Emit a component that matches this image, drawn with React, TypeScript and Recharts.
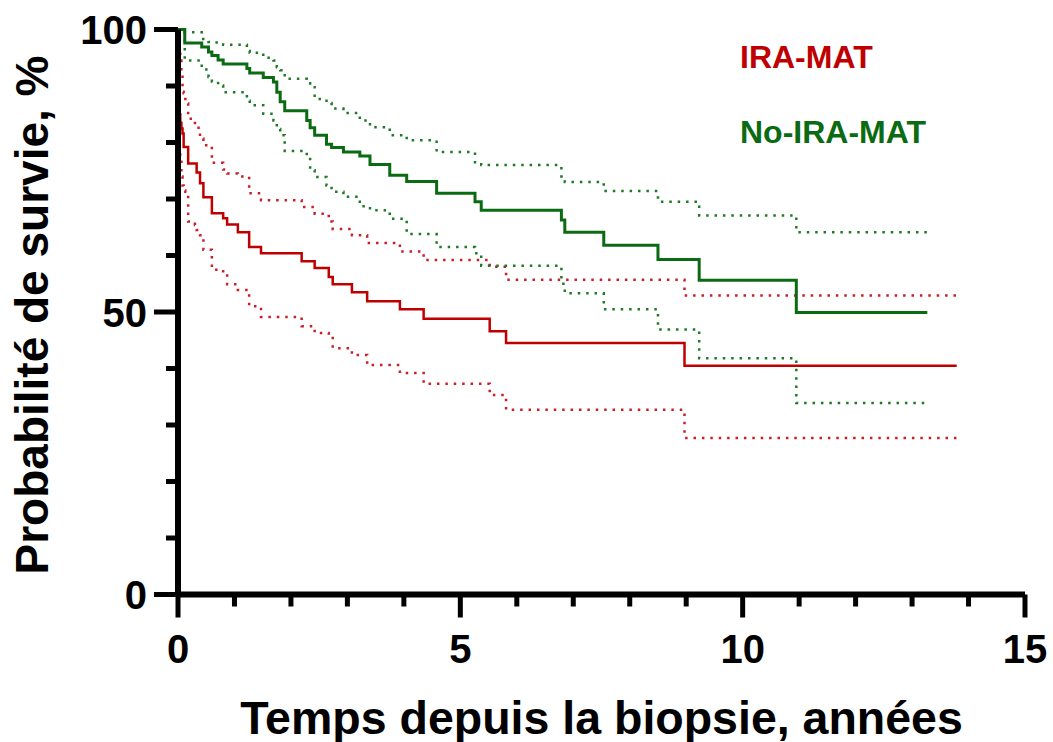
import { LineChart, Line, XAxis, YAxis, Legend, Label } from "recharts";

// IRA-MAT group (Kaplan-Meier estimate with 95% CI)
const iraTimes = [0, 0.01, 0.02, 0.03, 0.04, 0.06, 0.08, 0.1, 0.13, 0.18, 0.3, 0.33, 0.39, 0.45, 0.6, 0.8, 0.87, 1.06, 1.26, 1.47, 2.19, 2.42, 2.67, 2.74, 3.08, 3.35, 3.93, 4.35, 5.52, 5.81, 8.97, 13.79];
const iraSurvival = [100, 94, 89, 85, 83.5, 82.5, 81.6, 79.2, 79.2, 76.3, 76.3, 74.7, 72.8, 70.3, 67.5, 66.6, 65.5, 64.1, 61.5, 60.4, 59.0, 57.8, 56.2, 54.9, 53.5, 51.9, 50.5, 48.8, 46.6, 44.5, 40.5, 40.5];
const iraUpper = [100, 99, 97.5, 96, 94.5, 92, 89, 88.7, 86.9, 84.2, 83, 82.6, 80.7, 79.5, 76.4, 75.2, 74.5, 74.0, 71.0, 69.8, 68.6, 67.4, 66.0, 64.7, 63.6, 62.2, 60.7, 59.2, 58.0, 55.7, 52.9, 52.9];
const iraLower = [100, 88, 82, 79, 77, 74, 72.4, 71.5, 71.3, 66.0, 65.4, 64.5, 63.6, 61.0, 57.5, 56.8, 54.9, 53.9, 51.0, 49.1, 47.5, 46.3, 45.8, 43.6, 42.4, 40.6, 39.2, 37.3, 35.3, 32.7, 27.7, 27.7];

// No-IRA-MAT group
const noIraTimes = [0, 0.12, 0.42, 0.54, 0.6, 0.71, 0.8, 1.22, 1.27, 1.51, 1.69, 1.75, 1.81, 1.89, 2.28, 2.34, 2.42, 2.63, 2.72, 2.93, 3.22, 3.4, 3.75, 4.05, 4.58, 5.26, 5.37, 6.79, 6.85, 7.54, 8.5, 9.23, 10.95, 13.27];
const noIraSurvival = [100, 97.6, 96.9, 96.0, 95.4, 94.6, 93.9, 93.1, 92.3, 91.5, 90.7, 88.9, 87.2, 85.6, 83.9, 82.6, 81.3, 79.7, 79.1, 78.3, 77.6, 76.1, 74.2, 73.1, 71.0, 69.5, 68.0, 66.3, 64.1, 61.8, 59.3, 55.6, 49.9, 49.9];
const noIraUpper = [100, 99.5, 98.3, 97.8, 97.7, 97.6, 97.3, 96.2, 95.9, 95.0, 94.5, 93.3, 92.8, 91.3, 90.5, 89.8, 87.7, 87.0, 86.0, 85.2, 83.9, 82.7, 81.3, 80.4, 78.3, 76.5, 76.0, 74.0, 73.0, 71.4, 69.5, 67.1, 64.1, 64.1];
const noIraLower = [100, 94.5, 92.9, 91.6, 90.8, 90.1, 88.9, 87.4, 86.6, 85.1, 83.9, 82.4, 81.3, 78.5, 77.7, 75.1, 73.9, 72.4, 71.3, 70.4, 68.7, 68.0, 66.5, 63.8, 61.5, 60.4, 58.2, 55.0, 53.3, 50.5, 46.9, 41.8, 33.9, 33.9];

const xTicks = [0, 1, 2, 3, 4, 5, 6, 7, 8, 9, 10, 11, 12, 13, 14, 15];
const yTicks = [0, 10, 20, 30, 40, 50, 60, 70, 80, 90, 100];

const groups = [
  { name: "IRA-MAT", color: "#C00000" },
  { name: "No-IRA-MAT", color: "#0B6B12" },
];

const FONT = "'Liberation Sans', Arial, Helvetica, sans-serif";

const toRows = (t: number[], s: number[], lo: number[], hi: number[]) =>
  t.map((v, i) => ({ t: v, s: s[i], lo: lo[i], hi: hi[i] }));

const iraData = toRows(iraTimes, iraSurvival, iraLower, iraUpper);
const noIraData = toRows(noIraTimes, noIraSurvival, noIraLower, noIraUpper);

const XTick = (props: any) => {
  const { x, y, payload } = props;
  const major = payload.value % 5 === 0;
  return (
    <g>
      <line x1={x} x2={x} y1={y} y2={y + (major ? 23 : 12)} stroke="#000" strokeWidth={5} />
      {major && (
        <text x={x} y={y + 68.5} textAnchor="middle" fontFamily={FONT} fontWeight="bold" fontSize={40} fill="#000">
          {payload.value}
        </text>
      )}
    </g>
  );
};

const YTick = (props: any) => {
  const { x, y, payload } = props;
  const major = payload.value % 50 === 0;
  return (
    <g>
      <line x1={x - (major ? 24 : 12)} x2={x} y1={y} y2={y} stroke="#000" strokeWidth={5} />
      {major && (
        <text x={x - 31} y={y + 14.5} textAnchor="end" fontFamily={FONT} fontWeight="bold" fontSize={40} fill="#000">
          {payload.value}
        </text>
      )}
    </g>
  );
};

const LegendBox = () => (
  <div style={{ fontFamily: FONT, fontWeight: "bold", fontSize: 32, lineHeight: "32px" }}>
    {groups.map((g, i) => (
      <div key={g.name} style={{ color: g.color, marginBottom: i === 0 ? 43 : 0, whiteSpace: "nowrap" }}>
        {g.name}
      </div>
    ))}
  </div>
);

export default function App() {
  const dotted = "2.5 5.9";
  return (
    <div style={{ position: "absolute", left: 0, top: 0, background: "#fff" }}>
      <LineChart width={1053} height={742} margin={{ top: 29.5, right: 28, bottom: 87.5, left: 78 }}>
        <XAxis
          type="number"
          dataKey="t"
          domain={[0, 15]}
          ticks={xTicks}
          interval={0}
          height={60}
          tickSize={0}
          tickMargin={0}
          tick={<XTick />}
          axisLine={{ stroke: "#000", strokeWidth: 6 }}
          allowDuplicatedCategory={false}
        >
          <Label
            content={(p: any) => {
              const vb = p.viewBox;
              return (
                <text x={vb.x + vb.width / 2} y={vb.y + 139} textAnchor="middle" fontFamily={FONT} fontWeight="bold" fontSize={46.5} fill="#000">
                  Temps depuis la biopsie, années
                </text>
              );
            }}
          />
        </XAxis>
        <YAxis
          type="number"
          domain={[0, 100]}
          ticks={yTicks}
          interval={0}
          width={100}
          tickSize={0}
          tickMargin={0}
          tick={<YTick />}
          axisLine={{ stroke: "#000", strokeWidth: 6 }}
        >
          <Label
            content={(p: any) => {
              const vb = p.viewBox;
              const cx = vb.x - 30;
              const cy = vb.y + vb.height / 2 + 3;
              return (
                <text x={cx} y={cy} transform={`rotate(-90, ${cx}, ${cy})`} textAnchor="middle" fontFamily={FONT} fontWeight="bold" fontSize={46} fill="#000">
                  Probabilité de survie, %
                </text>
              );
            }}
          />
        </YAxis>
        <Legend
          layout="horizontal"
          verticalAlign="middle"
          align="center"
          wrapperStyle={{ left: 740, top: 41, width: "auto", height: "auto" }}
          content={<LegendBox />}
        />

        <Line data={iraData} dataKey="hi" type="stepAfter" stroke="#C8202A" strokeWidth={2.5} strokeDasharray={dotted} dot={false} isAnimationActive={false} legendType="none" />
        <Line data={iraData} dataKey="lo" type="stepAfter" stroke="#C8202A" strokeWidth={2.5} strokeDasharray={dotted} dot={false} isAnimationActive={false} legendType="none" />
        <Line data={noIraData} dataKey="hi" type="stepAfter" stroke="#1E7A26" strokeWidth={2.5} strokeDasharray={dotted} dot={false} isAnimationActive={false} legendType="none" />
        <Line data={noIraData} dataKey="lo" type="stepAfter" stroke="#1E7A26" strokeWidth={2.5} strokeDasharray={dotted} dot={false} isAnimationActive={false} legendType="none" />
        <Line data={iraData} dataKey="s" name={groups[0].name} type="stepAfter" stroke={groups[0].color} strokeWidth={2.5} dot={false} isAnimationActive={false} />
        <Line data={noIraData} dataKey="s" name={groups[1].name} type="stepAfter" stroke={groups[1].color} strokeWidth={3} dot={false} isAnimationActive={false} />
      </LineChart>
    </div>
  );
}
